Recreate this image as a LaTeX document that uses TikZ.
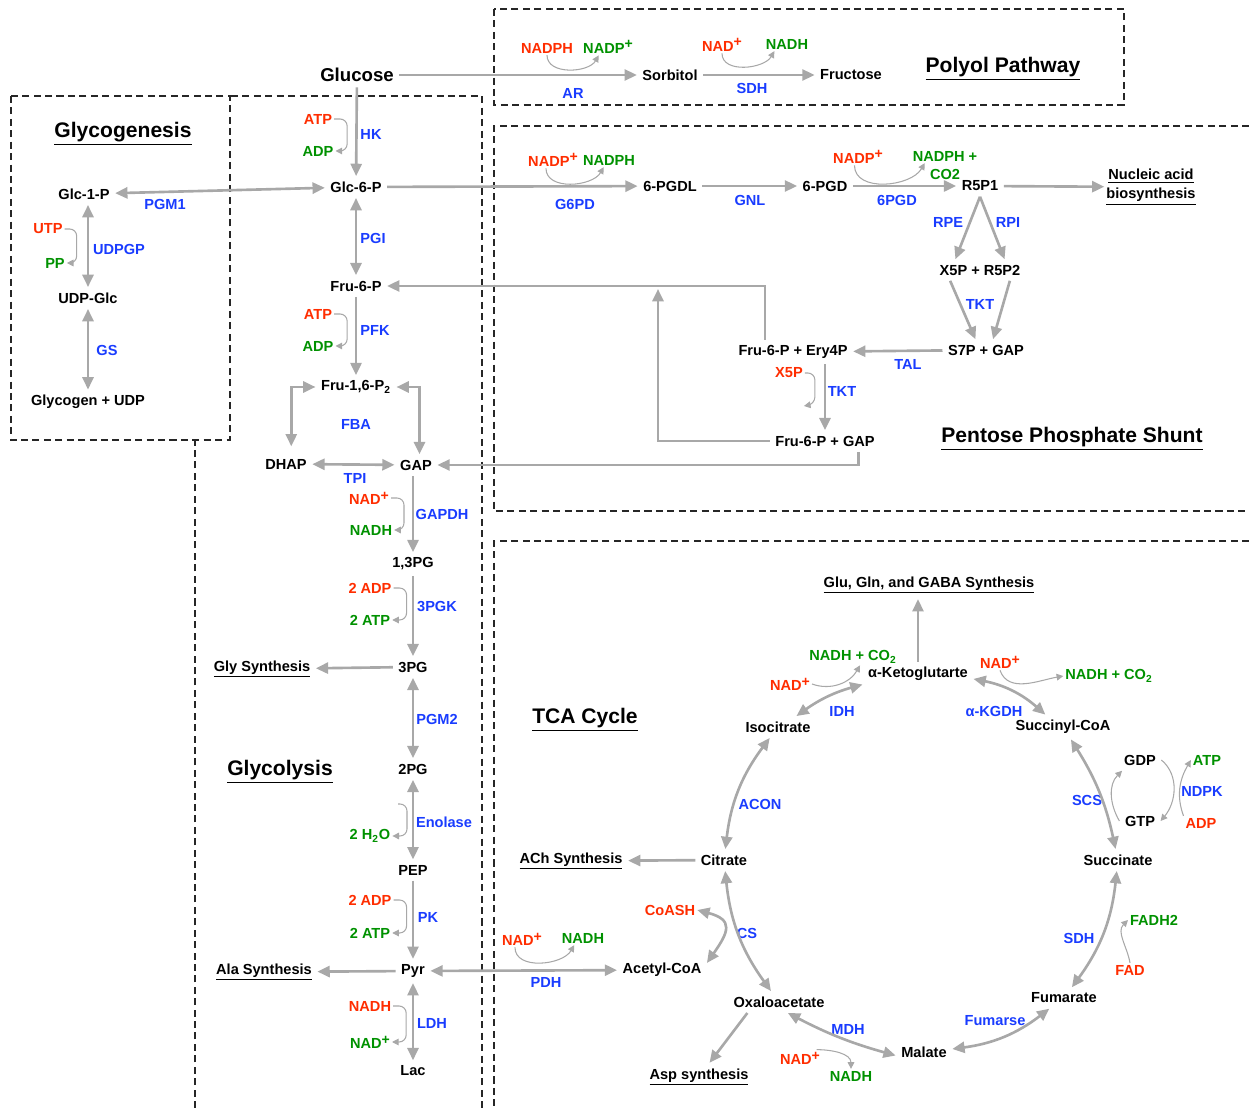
\documentclass[tikz,border=0pt]{standalone}
\usepackage{fontspec}
\setmainfont{Liberation Sans}
\usetikzlibrary{arrows.meta}
\definecolor{enzblue}{RGB}{25,60,255}
\definecolor{inred}{RGB}{255,45,0}
\definecolor{outgreen}{RGB}{0,145,0}
\definecolor{rxngray}{RGB}{168,168,168}
\newcommand{\ionp}{\raisebox{0.55ex}{\fontsize{8}{8}\selectfont +}}
\begin{document}
\begin{tikzpicture}[x=0.02cm,y=-0.02cm,
every node/.style={font=\bfseries\fontsize{8.3}{10}\selectfont,inner sep=3pt},
met/.style={text=black},
bigmet/.style={font=\bfseries\fontsize{10.6}{12}\selectfont},
enz/.style={text=enzblue},
cin/.style={text=inred,inner sep=1pt},
cout/.style={text=outgreen,inner sep=1pt},
syn/.style={text=black},
ttl/.style={font=\bfseries\fontsize{12}{14}\selectfont},
rxn/.style={draw=rxngray,line width=1.5pt,-{Triangle[length=7pt,width=6.3pt]}},
dbl/.style={rxn,{Triangle[length=7pt,width=6.3pt]}-{Triangle[length=7pt,width=6.3pt]}},
cof/.style={draw=rxngray,line width=0.6pt,-{Triangle[length=3.8pt,width=3.8pt]},rounded corners=4pt},
region/.style={draw=black!85,line width=0.6pt,dash pattern=on 4pt off 2.5pt}]
\useasboundingbox (0,0) rectangle (1249,1108);

% dashed regions
\draw[region] (494,9) rectangle (1124,105);
\draw[region] (11,96) rectangle (230,440);
\draw[region] (195,1108) -- (195,440);
\draw[region] (231,96) -- (482,96) -- (482,1108);
\draw[region] (1249,126) -- (494,126) -- (494,511) -- (1249,511);
\draw[region] (1249,541) -- (494,541) -- (494,1108);

% titles
\draw (1003,69) node[ttl] (polyol) {\underline{Polyol Pathway}};
\draw (123,134) node[ttl] (glycogenesis) {\underline{Glycogenesis}};
\draw (280,772) node[ttl] (glycolysis) {\underline{Glycolysis}};
\draw (1072,439) node[ttl] (ppp) {\underline{Pentose Phosphate Shunt}};
\draw (585,720) node[ttl] (tca) {\underline{TCA Cycle}};

% polyol pathway
\draw (357,75) node[bigmet] (glc) {Glucose};
\draw (670,75) node[met] (sorb) {Sorbitol};
\draw (851,75) node[met] (fruc) {Fructose};
\draw (573,93) node[enz] (ar) {AR};
\draw (752,88) node[enz] (sdha) {SDH};
\draw (547,48) node[cin] (nadpha) {NADPH};
\draw (608,47) node[cout] (nadpa) {NADP\ionp};
\draw (722,45) node[cin] (nada) {NAD\ionp};
\draw (787,44) node[cout] (nadha) {NADH};

% glycogenesis
\draw (84,194) node[met] (glc1p) {Glc-1-P};
\draw (88,298) node[met] (udpglc) {UDP-Glc};
\draw (88,402) node[met] (glycogen) {Glycogen + UDP};
\draw (165,204) node[enz] (pgm1) {PGM1};
\draw (119,249) node[enz] (udpgp) {UDPGP};
\draw (107,350) node[enz] (gs) {GS};
\draw (48,229) node[cin] (utp) {UTP};
\draw (55,263) node[cout] (pp) {PP};

% glycolysis
\draw (356,187) node[met] (glc6p) {Glc-6-P};
\draw (356,286) node[met] (fru6p) {Fru-6-P};
\draw (356,387) node[met] (fbp) {Fru-1,6-P\textsubscript{2}};
\draw (286,464) node[met] (dhap) {DHAP};
\draw (416,465) node[met] (gap) {GAP};
\draw (413,564) node[met] (bpg) {1,3PG};
\draw (413,667) node[met] (pg3) {3PG};
\draw (413,769) node[met] (pg2) {2PG};
\draw (413,870) node[met] (pep) {PEP};
\draw (413,971) node[met] (pyr) {Pyr};
\draw (413,1071) node[met] (lac) {Lac};
\draw (262,669) node[syn] (glysyn) {\underline{Gly Synthesis}};
\draw (264,972) node[syn] (alasyn) {\underline{Ala Synthesis}};
\draw (371,134) node[enz] (hk) {HK};
\draw (373,238) node[enz] (pgi) {PGI};
\draw (375,330) node[enz] (pfk) {PFK};
\draw (356,424) node[enz] (fba) {FBA};
\draw (355,478) node[enz] (tpi) {TPI};
\draw (442,514) node[enz] (gapdh) {GAPDH};
\draw (437,606) node[enz] (pgk) {3PGK};
\draw (437,719) node[enz] (pgm2) {PGM2};
\draw (444,822) node[enz] (eno) {Enolase};
\draw (428,917) node[enz] (pk) {PK};
\draw (432,1023) node[enz] (ldh) {LDH};
\draw (318,119) node[cin] (atpa) {ATP};
\draw (318,151) node[cout] (adpa) {ADP};
\draw (318,314) node[cin] (atpb) {ATP};
\draw (318,346) node[cout] (adpb) {ADP};
\draw (369,498) node[cin] (nadg) {NAD\ionp};
\draw (371,530) node[cout] (nadhg) {NADH};
\draw (370,588) node[cin] (adpc) {2 ADP};
\draw (370,620) node[cout] (atpc) {2 ATP};
\draw (370,836) node[cout] (water) {2 H\textsubscript{2}O};
\draw (370,900) node[cin] (adpd) {2 ADP};
\draw (370,933) node[cout] (atpd) {2 ATP};
\draw (370,1006) node[cin] (nadhl) {NADH};
\draw (370,1042) node[cout] (nadl) {NAD\ionp};

% pentose phosphate shunt
\draw (670,186) node[met] (pgdl) {6-PGDL};
\draw (825,186) node[met] (pgd) {6-PGD};
\draw (980,186) node[met] (r5p) {R5P1};
\draw (980,270) node[met] (x5p) {X5P + R5P2};
\draw (986,350) node[met] (s7p) {S7P + GAP};
\draw (793,352) node[met] (fe4p) {Fru-6-P + Ery4P};
\draw (825,441) node[met] (fgap) {Fru-6-P + GAP};
\draw (1151,187) node[syn,align=center,inner sep=1pt,font=\bfseries\fontsize{8.3}{11}\selectfont] (nucl) {\underline{Nucleic acid}\\\underline{biosynthesis}};
\draw (575,204) node[enz] (g6pd) {G6PD};
\draw (750,200) node[enz] (gnl) {GNL};
\draw (897,200) node[enz] (pgdh) {6PGD};
\draw (948,222) node[enz] (rpe) {RPE};
\draw (1008,222) node[enz] (rpi) {RPI};
\draw (980,304) node[enz] (tkta) {TKT};
\draw (908,364) node[enz] (tal) {TAL};
\draw (842,391) node[enz] (tktb) {TKT};
\draw (553,160) node[cin] (nadpp) {NADP\ionp};
\draw (609,160) node[cout] (nadphp) {NADPH};
\draw (858,157) node[cin] (nadpq) {NADP\ionp};
\draw (945,156) node[cout] (nadphq) {NADPH +};
\draw (945,174) node[cout] (co2q) {CO2};
\draw (789,373) node[cin] (x5pc) {X5P};

% TCA cycle
\draw (662,970) node[met] (accoa) {Acetyl-CoA};
\draw (724,860) node[met] (cit) {Citrate};
\draw (778,727) node[met] (icit) {Isocitrate};
\draw (918,674) node[met] (akg) {α-Ketoglutarte};
\draw (1063,727) node[met] (succoa) {Succinyl-CoA};
\draw (1118,860) node[met] (succ) {Succinate};
\draw (1064,998) node[met] (fum) {Fumarate};
\draw (924,1052) node[met] (mal) {Malate};
\draw (779,1002) node[met] (oaa) {Oxaloacetate};
\draw (1140,760) node[met] (gdp) {GDP};
\draw (1140,821) node[met] (gtp) {GTP};
\draw (929,585) node[syn] (glusyn) {\underline{Glu, Gln, and GABA Synthesis}};
\draw (571,861) node[syn] (achsyn) {\underline{ACh Synthesis}};
\draw (699,1077) node[syn] (aspsyn) {\underline{Asp synthesis}};
\draw (546,982) node[enz] (pdh) {PDH};
\draw (842,711) node[enz] (idh) {IDH};
\draw (760,804) node[enz] (acon) {ACON};
\draw (747,933) node[enz] (cs) {CS};
\draw (994,711) node[enz] (akgdh) {α-KGDH};
\draw (1087,800) node[enz] (scs) {SCS};
\draw (1202,791) node[enz] (ndpk) {NDPK};
\draw (1079,938) node[enz] (sdhb) {SDH};
\draw (995,1021) node[enz] (fumh) {Fumarse};
\draw (848,1029) node[enz] (mdh) {MDH};
\draw (522,939) node[cin] (nadpd) {NAD\ionp};
\draw (583,938) node[cout] (nadhpd) {NADH};
\draw (790,684) node[cin] (nadi) {NAD\ionp};
\draw (853,657) node[cout] (nadhi) {NADH + CO\textsubscript{2}};
\draw (1000,662) node[cin] (nadk) {NAD\ionp};
\draw (1109,676) node[cout] (nadhk) {NADH + CO\textsubscript{2}};
\draw (670,910) node[cin] (coash) {CoASH};
\draw (1207,760) node[cout] (atps) {ATP};
\draw (1201,823) node[cin] (adps) {ADP};
\draw (1154,920) node[cout] (fadh) {FADH2};
\draw (1130,970) node[cin] (fad) {FAD};
\draw (800,1058) node[cin] (nadm) {NAD\ionp};
\draw (851,1076) node[cout] (nadhm) {NADH};

% reactions: polyol and glycogenesis
\draw[rxn] (glc) -- (sorb);
\draw[rxn] (sorb) -- (fruc);
\draw[cof] (nadpha.south) to[out=-90,in=-120] ([xshift=10pt]nadpa.south west);
\draw[cof] (nada.south) to[out=-90,in=-120] ([xshift=6pt]nadha.south west);
\draw[dbl] (glc6p) -- (glc1p);
\draw[dbl] (glc1p.south -| udpglc) -- (udpglc);
\draw[dbl] (udpglc) -- (glycogen);
\draw[cof] (utp.east) -- ++(12,0) |- (pp.east);

% reactions: glycolysis
\draw[rxn] (glc) -- (glc6p);
\draw[dbl] (glc6p) -- (fru6p);
\draw[rxn] (fru6p) -- (fbp);
\draw[dbl] (fbp.west) -| ([xshift=3pt,yshift=4pt]dhap.north);
\draw[dbl] (fbp.east) -| ([xshift=2pt]gap.north);
\draw[dbl] (dhap) -- (gap);
\draw[rxn] (bpg.north |- gap.south) -- (bpg);
\draw[rxn] (bpg) -- (pg3);
\draw[rxn] (pg3) -- (glysyn);
\draw[dbl] (pg3) -- (pg2);
\draw[dbl] (pg2) -- (pep);
\draw[rxn] (pep) -- (pyr);
\draw[rxn] (pyr) -- (alasyn);
\draw[dbl] (pyr) -- (lac);
\draw[dbl] (pyr) -- (accoa);
\draw[cof] (atpa.east) -- ++(13,0) |- (adpa.east);
\draw[cof] (atpb.east) -- ++(13,0) |- (adpb.east);
\draw[cof] (nadg.east) -- ++(13,0) |- (nadhg.east);
\draw[cof] (adpc.east) -- ++(13,0) |- (atpc.east);
\coordinate (enotop) at (398,804);
\draw[cof] (enotop) -- ++(9,0) |- (water.east);
\draw[cof] (adpd.east) -- ++(13,0) |- (atpd.east);
\draw[cof] (nadhl.east) -- ++(13,0) |- (nadl.east);
\draw[cof] ([xshift=-4pt]nadpd.south) to[out=-90,in=-120] ([xshift=-5pt]nadhpd.south);

% reactions: pentose phosphate shunt
\draw[rxn] (glc6p) -- (pgdl);
\draw[rxn] (pgdl) -- (pgd);
\draw[rxn] (pgd) -- (r5p);
\draw[rxn] (r5p) -- (nucl);
\draw[cof] ([xshift=-4pt]nadpp.south) to[out=-90,in=-120] ([xshift=-3pt]nadphp.south);
\draw[cof] ([xshift=-2pt]nadpq.south) to[out=-90,in=-120] ([xshift=8pt]nadphq.south west);
\draw[rxn] (r5p.south) -- ([xshift=-14pt]x5p.north);
\draw[rxn] (r5p.south) -- ([xshift=14pt]x5p.north);
\draw[rxn] ([xshift=-17pt]x5p.south) -- ([xshift=-6pt]s7p.north);
\draw[rxn] ([xshift=17pt]x5p.south) -- ([xshift=4pt]s7p.north);
\draw[rxn] (s7p) -- (fe4p);
\draw[rxn] ([xshift=-16pt]fe4p.north) |- (fru6p);
\draw[rxn] (fgap.north |- fe4p.south) -- (fgap);
\draw[cof] (x5pc.east) -- ++(10,0) -- ++(0,31) -- ++(-11,2);
\coordinate (fbk) at (658,289);
\draw[rxn] (fgap.west) -| (fbk);
\draw[rxn] ([xshift=19pt]fgap.south) |- (gap);

% reactions: TCA cycle
\draw[rxn] (akg.north) -- (akg.north |- glusyn.south);
\draw[rxn] (cit) -- (achsyn);
\draw[rxn] ([xshift=-18pt]oaa.south) -- ([xshift=6pt]aspsyn.north);
\draw[dbl] (cit) to[bend left=15] (icit);
\draw[dbl] (icit) to[bend left=10] (akg);
\draw[dbl] (akg) to[bend left=15] (succoa);
\draw[dbl] (succoa) to[bend left=10] (succ);
\draw[dbl] (succ) to[bend left=15] (fum);
\draw[dbl] (fum) to[bend left=15] (mal);
\draw[dbl] ([yshift=-2pt]mal.west) to[bend left=6] ([xshift=-24pt]oaa.south east);
\draw[dbl] (oaa) to[bend left=15] (cit);
\draw[dbl] (coash.east) to[out=-15,in=55,looseness=1.8] ([yshift=4pt]accoa.east);
\draw[cof] (nadi.east) to[out=-20,in=-120] ([xshift=4pt]nadhi.south);
\draw[cof] (nadk.south) to[out=-70,in=190] (nadhk.west);
\draw[cof] ([xshift=-3pt]nadm.north east) to[out=0,in=90] (nadhm.north);
\draw[cof] (gtp.west) to[out=120,in=-135] ([xshift=2pt]gdp.south west);
\draw[cof] (gdp.east) to[out=-40,in=50] (gtp.east);
\draw[cof] (adps.north west) to[out=110,in=-120] (atps.west);
\draw[cof] (fad.north) to[out=100,in=-135] (fadh.west);
\end{tikzpicture}
\end{document}
